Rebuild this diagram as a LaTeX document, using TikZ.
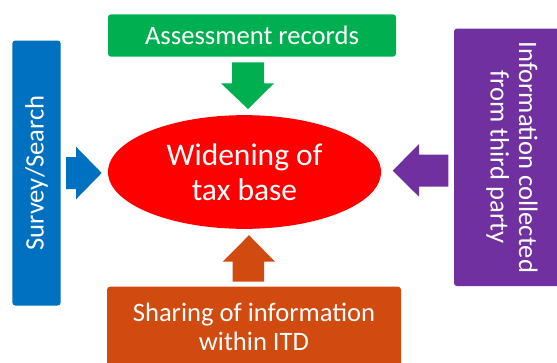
\documentclass[tikz,border=0pt]{standalone}
\usepackage{fontspec}
\setmainfont{Carlito}
\usetikzlibrary{shapes.geometric}
\definecolor{cgreen}{RGB}{0,176,80}
\definecolor{cblue}{RGB}{0,112,192}
\definecolor{cpurple}{RGB}{112,48,160}
\definecolor{corange}{RGB}{209,74,16}
\definecolor{cred}{RGB}{255,0,0}
\tikzset{
  box/.style={rectangle, rounded corners=3pt, inner sep=0pt, text=white, align=center,
    font=\fontsize{26.6}{28.6}\selectfont},
}
\begin{document}
\begin{tikzpicture}[x=1pt,y=-1pt]
\useasboundingbox (0,0) rectangle (557,362);
% boxes
\node[box, fill=cgreen, minimum width=288pt, minimum height=42.4pt] (rec) at (252,35.5) {Assessment records};
\node[box, fill=cblue, rotate=90, minimum width=265pt, minimum height=48.4pt] (srv) at (36.5,173) {Survey/Search};
\node[box, fill=cpurple, rotate=-90, minimum width=257.5pt, minimum height=116pt] (thp) at (512,157.3) {Information collected\\from third party};
\node[box, fill=corange, minimum width=294pt, minimum height=80pt] (itd) at (254,326.7) {Sharing of information\\within ITD};
% centre
\node[ellipse, fill=cred, inner sep=0pt, minimum width=273pt, minimum height=113.7pt, text=white, align=center,
  font=\fontsize{31.5}{35}\selectfont] (tax) at (244.5,172) {Widening of\\tax base};
% block arrows
\fill[cgreen] (232,62.3) -- (264,62.3) -- (264,83.3) -- (274,83.3) -- (248,109) -- (221,83.3) -- (232,83.3) -- cycle;
\fill[cblue] (66,157) -- (76,157) -- (76,146.7) -- (101.7,173) -- (76,199.3) -- (76,189) -- (66,189) -- cycle;
\fill[cpurple] (448.3,154.5) -- (419,154.5) -- (419,144) -- (392.7,170.7) -- (419,196.7) -- (419,186.7) -- (448.3,186.7) -- cycle;
\fill[corange] (232.7,281.5) -- (264,281.5) -- (264,261.7) -- (275,261.7) -- (249,235.2) -- (222.7,261.7) -- (232.7,261.7) -- cycle;
\end{tikzpicture}
\end{document}
